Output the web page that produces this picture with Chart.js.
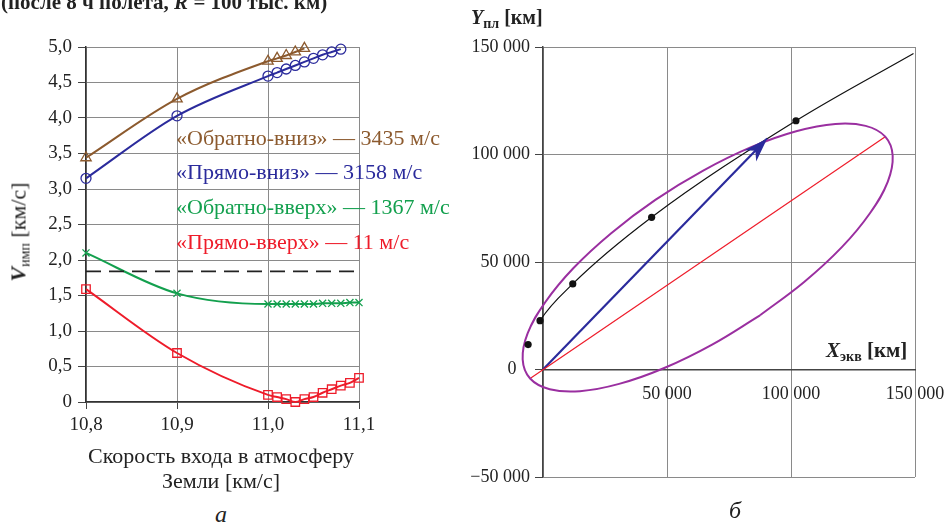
<!DOCTYPE html>
<html>
<head>
<meta charset="utf-8">
<script src="https://cdn.jsdelivr.net/npm/chart.js@4/dist/chart.umd.min.js"></script>
<style>
  body { margin: 0; background: #fff; }
  #wrap { position: relative; width: 947px; height: 526px; overflow: hidden; font-family: "Liberation Serif", serif; color: #222; }
  canvas { position: absolute; top: 0; }
  .t { position: absolute; white-space: nowrap; line-height: 24px; }
  .lbl { font-size: 22px; }
  sub { font-size: 14px; vertical-align: -4px; }
</style>
</head>
<body>
<div id="wrap">
  <canvas id="left" width="400" height="440" style="left:0"></canvas>
  <canvas id="right" width="507" height="526" style="left:440px"></canvas>

  <div class="t" style="left:1px;top:-10px;font-size:21px;font-weight:bold">(после 8 ч полета, <i>R</i> = 100 тыс. км)</div>

  <div class="t lbl" style="left:176px;top:126px;color:#8c5a2e">«Обратно-вниз» — 3435 м/с</div>
  <div class="t lbl" style="left:176px;top:160px;color:#2b2b9c">«Прямо-вниз» — 3158 м/с</div>
  <div class="t lbl" style="left:176px;top:195px;color:#13a04e">«Обратно-вверх» — 1367 м/с</div>
  <div class="t lbl" style="left:176px;top:230px;color:#ee1c2a">«Прямо-вверх» — 11 м/с</div>

  <div class="t" style="left:22px;top:232px;font-size:22px;transform:translate(-50%,-50%) rotate(-90deg)"><b><i>V</i></b><sub>имп</sub> [км/с]</div>
  <div class="t" style="left:0;width:442px;top:443px;text-align:center;font-size:22px;line-height:25px">Скорость входа в атмосферу<br>Земли [км/с]</div>
  <div class="t" style="left:215px;top:502px;font-size:24px;font-style:italic">а</div>

  <div class="t" style="left:471px;top:5px;font-size:20px;font-weight:bold"><i>Y</i><sub>пл</sub> [км]</div>
  <div class="t" style="left:826px;top:338px;font-size:21px;font-weight:bold"><i>X</i><sub>экв</sub> [км]</div>
  <div class="t" style="left:729px;top:498px;font-size:24px;font-style:italic">б</div>
</div>

<script>
// left panel: impulse vs entry speed
const brownX = [10.8, 10.9, 11.0, 11.01, 11.02, 11.03, 11.04];
const brownY = [3.44, 4.27, 4.80, 4.84, 4.88, 4.93, 4.98];
const blueX = [10.8, 10.9, 11.0, 11.01, 11.02, 11.03, 11.04, 11.05, 11.06, 11.07, 11.08];
const blueY = [3.15, 4.03, 4.59, 4.64, 4.69, 4.74, 4.79, 4.84, 4.89, 4.93, 4.97];
const greenX = [10.8, 10.9, 11.0, 11.01, 11.02, 11.03, 11.04, 11.05, 11.06, 11.07, 11.08, 11.09, 11.1];
const greenY = [2.10, 1.53, 1.38, 1.38, 1.38, 1.38, 1.38, 1.38, 1.39, 1.39, 1.39, 1.40, 1.40];
const redX = [10.8, 10.9, 11.0, 11.01, 11.02, 11.03, 11.04, 11.05, 11.06, 11.07, 11.08, 11.09, 11.1];
const redY = [1.59, 0.69, 0.10, 0.07, 0.04, 0.00, 0.04, 0.07, 0.13, 0.18, 0.23, 0.27, 0.34];
const dashX = [10.8, 11.1];
const dashY = [1.84, 1.84];

// right panel: trajectory, orbit, axes (km)
const trajX = [-7000, -6000, -1200, 12000, 43800, 102000, 149400];
const trajY = [6000, 11600, 22700, 39800, 70800, 115700, 147000];
const dotX = [-6000, -1200, 12000, 43800, 102000];
const dotY = [11600, 22700, 39800, 70800, 115700];
const orbitX = [87500, 105300, 120500, 131900, 139000, 141000, 138000, 130100, 117900, 102100, 83900, 64600,
  45300, 27500, 12300, 900, -6200, -8200, -5200, 2700, 14900, 30700, 48900, 68200, 87500];
const orbitY = [25200, 40700, 56900, 72800, 87300, 99400, 108300, 113300, 114200, 110800, 103400, 92500,
  78900, 63400, 47200, 31300, 16800, 4700, -4200, -9200, -10100, -6700, 700, 11600, 25200];
const apsX = [-5200, 138000];
const apsY = [-4200, 108300];
const arrowX = [0, 90400];
const arrowY = [0, 107400];

const BROWN = '#8c5a2e', BLUE = '#2b2b9c', GREEN = '#13a04e', RED = '#ee1c2a', PURPLE = '#9a2fa0';

const pts = (xs, ys) => xs.map((x, i) => ({x: x, y: ys[i]}));
const comma = v => v.toFixed(1).replace('.', ',');
const thousands = v => (v < 0 ? '\u2212' : '') + Math.abs(v).toString().replace(/\B(?=(\d{3})+(?!\d))/g, ' ');

Chart.defaults.font.family = '"Liberation Serif", serif';
Chart.defaults.color = '#222';

const line = (xs, ys, color, extra) => Object.assign({
  data: pts(xs, ys),
  showLine: true,
  borderColor: color,
  backgroundColor: 'rgba(255,255,255,0)',
  borderWidth: 2,
  pointBorderColor: color,
  pointBorderWidth: 1.3,
  cubicInterpolationMode: 'monotone',
  capBezierPoints: false,
  clip: false
}, extra);

new Chart(document.getElementById('left'), {
  type: 'scatter',
  data: {
    datasets: [
      line(dashX, dashY, '#222', {borderWidth: 1.6, borderDash: [15, 8], pointRadius: 0}),
      line(redX, redY, RED, {pointStyle: 'rect', pointRadius: 6}),
      line(greenX, greenY, GREEN, {pointStyle: 'crossRot', pointRadius: 5}),
      line(blueX, blueY, BLUE, {pointStyle: 'circle', pointRadius: 5}),
      line(brownX, brownY, BROWN, {pointStyle: 'triangle', pointRadius: 6})
    ]
  },
  options: {
    responsive: false,
    animation: false,
    layout: {padding: {top: 47, right: 41, left: 0, bottom: 0}},
    plugins: {legend: {display: false}, tooltip: {enabled: false}},
    scales: {
      x: {
        type: 'linear', min: 10.8, max: 11.1,
        afterFit: s => { s.height = 38; },
        ticks: {stepSize: 0.1, font: {size: 19}, padding: 5, maxRotation: 0, callback: v => comma(v)},
        grid: {color: '#8a8a8a', tickLength: 7, tickColor: '#444'},
        border: {color: '#333', width: 1.5}
      },
      y: {
        min: 0, max: 5,
        afterFit: s => { s.width = 86; },
        ticks: {stepSize: 0.5, font: {size: 19}, padding: 6, callback: v => v === 0 ? '0' : comma(v)},
        grid: {color: '#8a8a8a', tickLength: 8, tickColor: '#444'},
        border: {color: '#333', width: 1.5}
      }
    }
  }
});

// arrow head on the blue vector and the black trajectory dots (drawn even left of the axis)
const extras = {
  id: 'extras',
  afterDatasetsDraw(chart) {
    const ctx = chart.ctx;
    const p = chart.getDatasetMeta(2).data;
    const a = p[0], b = p[p.length - 1];
    const ang = Math.atan2(b.y - a.y, b.x - a.x);
    ctx.save();
    ctx.translate(b.x, b.y);
    ctx.rotate(ang);
    ctx.beginPath();
    ctx.moveTo(0, 0);
    ctx.lineTo(-24, -8);
    ctx.lineTo(-17, 0);
    ctx.lineTo(-24, 8);
    ctx.closePath();
    ctx.fillStyle = BLUE;
    ctx.fill();
    ctx.restore();

    ctx.save();
    ctx.fillStyle = '#111';
    chart.getDatasetMeta(4).data.forEach(el => {
      ctx.beginPath();
      ctx.arc(el.x, el.y, 3.6, 0, Math.PI * 2);
      ctx.fill();
    });
    ctx.restore();
  }
};

new Chart(document.getElementById('right'), {
  type: 'scatter',
  data: {
    datasets: [
      line(orbitX, orbitY, PURPLE, {pointRadius: 0, tension: 0.4, cubicInterpolationMode: 'default'}),
      line(apsX, apsY, RED, {pointRadius: 0, borderWidth: 1.2}),
      line(arrowX, arrowY, BLUE, {pointRadius: 0, borderWidth: 2.2}),
      line(trajX, trajY, '#111', {pointRadius: 0, borderWidth: 1.2}),
      {data: pts(dotX, dotY), pointRadius: 0}
    ]
  },
  options: {
    responsive: false,
    animation: false,
    layout: {padding: {top: 47, right: 32, left: 0, bottom: 49}},
    plugins: {legend: {display: false}, tooltip: {enabled: false}},
    scales: {
      x: {
        type: 'linear', min: 0, max: 150000,
        position: {y: 0},
        afterFit: s => { s.paddingLeft = 0; s.paddingRight = 0; },
        ticks: {stepSize: 50000, font: {size: 18}, padding: 14, maxRotation: 0, callback: v => v === 0 ? '' : thousands(v)},
        grid: {color: '#8a8a8a', drawTicks: false},
        border: {color: '#444', width: 1.5}
      },
      y: {
        min: -50000, max: 150000,
        afterFit: s => { s.width = 103; },
        ticks: {stepSize: 50000, font: {size: 18}, padding: 5, callback: v => v === 0 ? '0   ' : thousands(v)},
        grid: {color: '#8a8a8a', tickLength: 8, tickColor: '#444'},
        border: {color: '#444', width: 1.5}
      }
    }
  },
  plugins: [extras]
});
</script>
</body>
</html>
